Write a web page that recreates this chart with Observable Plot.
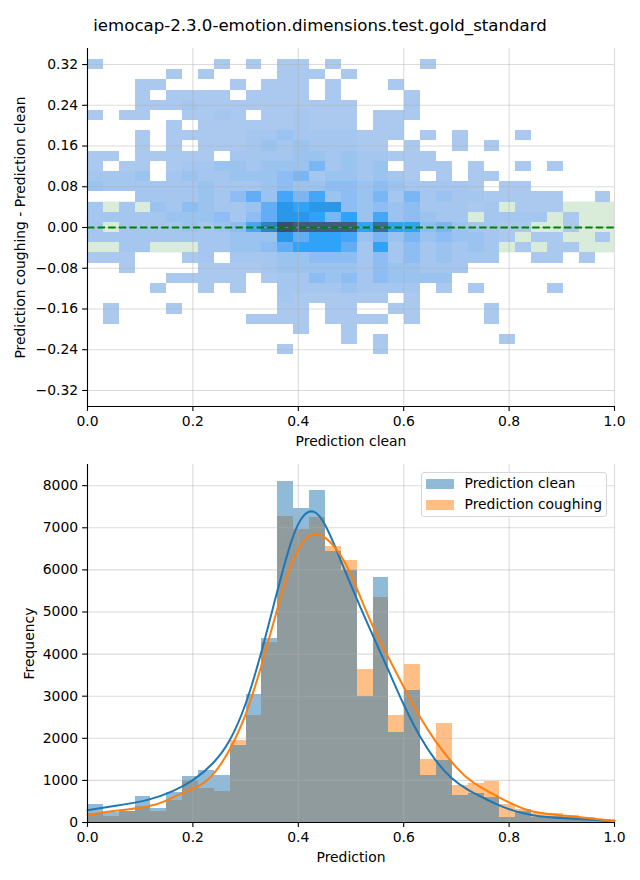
<!DOCTYPE html>
<html>
<head>
<meta charset="utf-8">
<script src="https://cdn.jsdelivr.net/npm/d3@7"></script>
<script src="https://cdn.jsdelivr.net/npm/@observablehq/plot@0.6"></script>
<style>
  html, body { margin: 0; padding: 0; background: #fff; }
  #page { position: relative; width: 640px; height: 880px; overflow: hidden; font-family: "DejaVu Sans", sans-serif; color: #000; }
  #title { position: absolute; left: 0; top: 15px; width: 640px; text-align: center; font-size: 16.6px; line-height: 22px; }
  #top, #bottom { position: absolute; left: 0; }
  #top { top: 40px; }
  #bottom { top: 440px; }
  svg { display: block; overflow: visible; }
  #legend { position: absolute; left: 420.5px; top: 471.5px; width: 186px; height: 45px; box-sizing: border-box; border: 1px solid #d6d6d6; border-radius: 3px; background: rgba(255,255,255,.8); font-size: 13.9px; }
  #legend .sw { position: absolute; left: 4px; width: 28px; height: 10px; }
  #legend .tx { position: absolute; left: 43px; line-height: 16px; white-space: nowrap; }
</style>
</head>
<body>
<div id="page">
  <div id="title"></div>
  <div id="top"></div>
  <div id="bottom"></div>
  <div id="legend"></div>
</div>
<script>
const titleText = "iemocap-2.3.0-emotion.dimensions.test.gold_standard";
const xLabelTop = "Prediction clean";
const yLabelTop = "Prediction coughing - Prediction clean";
const xLabelBottom = "Prediction";
const yLabelBottom = "Frequency";
const seriesNames = ["Prediction clean", "Prediction coughing"];
const seriesColors = ["#1f77b4", "#ff7f0e"];

const xTicks = [0, 0.2, 0.4, 0.6, 0.8, 1];
const yTicksTop = [-0.32, -0.24, -0.16, -0.08, 0, 0.08, 0.16, 0.24, 0.32];
const yTicksBottom = [0, 1000, 2000, 3000, 4000, 5000, 6000, 7000, 8000];

const binWidth = 0.0301;
const diffBinHeight = 0.02;

const diffCenters = [0.32, 0.30, 0.28, 0.26, 0.24, 0.22, 0.20, 0.18, 0.16, 0.14, 0.12, 0.10, 0.08, 0.06, 0.04, 0.02, 0,
  -0.02, -0.04, -0.06, -0.08, -0.10, -0.12, -0.14, -0.16, -0.18, -0.20, -0.22, -0.24];

const density = [
  [1,0,0,0,0,0,0,0,1,0,1,0,1,1,0,1,0,0,0,0,0,1,0,0,0,0,0,0,0,0,0,0,0],
  [0,0,0,0,0,1,0,1,0,0,0,0,1,1,1,0,1,0,0,0,0,0,0,0,0,0,0,0,0,0,0,0,0],
  [0,0,0,1,1,0,0,0,0,1,0,1,1,1,0,1,0,0,0,1,0,0,0,0,0,0,0,0,0,0,0,0,0],
  [0,0,0,1,0,1,1,1,1,0,1,1,1,1,0,1,0,0,0,0,1,0,0,0,0,0,0,0,0,0,0,0,0],
  [0,0,0,1,1,1,2,1,1,1,1,1,1,1,1,1,1,0,0,0,1,0,0,0,0,0,0,0,0,0,0,0,0],
  [1,0,1,1,0,0,1,1,2,1,0,1,1,2,1,1,1,0,1,1,1,0,0,0,0,0,0,0,0,0,0,0,0],
  [0,0,0,0,0,1,0,1,1,1,1,1,1,2,1,1,1,0,1,1,0,0,0,0,0,0,0,0,0,0,0,0,0],
  [0,0,0,1,0,1,1,1,1,1,2,2,3,2,2,2,2,1,1,1,0,1,0,1,0,0,0,1,0,0,0,0,0],
  [0,0,0,1,0,1,0,1,1,1,2,3,2,3,2,2,2,1,1,0,1,0,0,1,0,1,0,0,0,0,0,0,0],
  [1,1,0,1,1,1,1,1,0,2,2,2,2,3,3,2,3,2,2,1,1,1,0,0,0,0,0,0,0,0,0,0,0],
  [1,0,1,1,0,1,2,2,3,3,2,3,3,3,5,2,3,2,3,0,1,1,1,0,1,0,0,1,0,1,0,0,0],
  [2,2,2,3,0,2,3,2,2,3,3,3,4,5,2,3,3,2,3,2,1,0,1,0,1,1,0,0,0,0,0,0,0],
  [3,2,2,2,2,2,2,3,2,2,2,3,4,3,3,4,4,3,4,3,2,2,2,2,1,0,1,1,0,0,0,0,0],
  [0,0,0,2,2,2,2,3,2,4,6,3,7,5,7,3,4,3,5,2,5,2,3,2,2,1,1,1,1,1,0,0,1],
  [2,0,2,0,3,2,4,3,2,2,3,6,9,8,9,9,4,3,4,3,4,2,2,2,1,2,0,1,1,1,0,0,0],
  [2,2,2,2,2,3,3,3,4,2,4,6,9,9,8,5,8,3,7,3,4,3,2,2,0,2,2,2,2,0,1,0,0],
  [2,0,2,2,2,2,3,2,3,4,7,10,13,12,12,12,12,8,11,8,8,4,5,3,2,2,1,1,0,0,1,0,0],
  [2,2,2,2,2,2,2,2,2,3,3,3,9,6,8,8,7,3,5,3,5,3,4,3,3,2,1,0,1,1,0,0,1],
  [0,0,2,2,0,0,0,2,2,3,3,4,6,8,8,8,6,2,8,2,4,2,3,2,3,2,0,1,0,1,1,0,0],
  [1,1,1,0,0,0,1,2,0,2,2,2,3,3,4,4,4,2,4,2,4,2,3,2,2,2,0,0,1,1,0,1,0],
  [0,0,1,0,0,0,0,1,1,1,1,2,3,3,3,3,3,2,4,3,3,2,2,2,0,0,0,0,0,0,0,0,0],
  [0,0,0,0,0,1,1,1,1,1,0,1,2,2,4,3,4,2,4,3,3,3,3,0,0,0,0,0,0,0,0,0,0],
  [0,0,0,0,1,0,0,1,0,1,0,0,2,2,2,2,3,2,2,2,2,0,1,0,1,0,0,0,0,1,0,0,0],
  [0,0,0,0,0,0,0,0,0,0,0,0,2,1,1,1,1,1,1,0,1,0,0,0,0,0,0,0,0,0,0,0,0],
  [0,1,0,0,0,1,0,0,0,0,0,0,1,1,0,1,1,0,0,1,1,0,0,0,0,1,0,0,0,0,0,0,0],
  [0,1,0,0,0,0,0,0,0,0,1,1,1,1,0,1,1,1,1,0,1,0,0,0,0,1,0,0,0,0,0,0,0],
  [0,0,0,0,0,0,0,0,0,0,0,0,0,1,0,0,1,0,0,0,0,0,0,0,0,0,0,0,0,0,0,0,0],
  [0,0,0,0,0,0,0,0,0,0,0,0,0,0,0,0,1,0,1,0,0,0,0,0,0,0,1,0,0,0,0,0,0],
  [0,0,0,0,0,0,0,0,0,0,0,0,1,0,0,0,0,0,1,0,0,0,0,0,0,0,0,0,0,0,0,0,0]
];

const densityLevels = [1, 2, 3, 4, 5, 6, 7, 8, 9, 10, 11, 12, 13];
const densityColors = ["#abc8ee", "#a4c6ef", "#9bc3f0", "#8dbdf2", "#7bb6f4", "#62adf6", "#45a5f7", "#2fa3f8", "#2b97e8", "#2f82c4", "#3f6a98", "#405a80", "#3c4c6c"];

const histClean = [435, 230, 250, 625, 330, 720, 1100, 1240, 1120, 1835, 3045, 4375, 8100, 7460, 7890, 6440, 5990, 3000, 5820, 2145, 3140, 1120, 1480, 650, 695, 600, 125, 255, 120, 150, 120, 70, 55];
const histCough = [210, 150, 270, 390, 270, 530, 1005, 815, 745, 1955, 2550, 4280, 7270, 6960, 7250, 6560, 6225, 3640, 5350, 2550, 3760, 1500, 2360, 885, 935, 980, 435, 315, 215, 215, 165, 120, 70];

const kdeCleanX = [0, 0.05, 0.12, 0.164, 0.2, 0.24, 0.27, 0.30, 0.33, 0.36, 0.389, 0.41, 0.43, 0.45, 0.48, 0.499, 0.539, 0.57, 0.60, 0.63, 0.66, 0.69, 0.719, 0.749, 0.779, 0.81, 0.84, 0.90, 1];
const kdeCleanY = [293, 388, 530, 750, 980, 1400, 1900, 2750, 4020, 5500, 6850, 7350, 7440, 7150, 6250, 5650, 4500, 3650, 2780, 2040, 1460, 1040, 790, 600, 410, 270, 170, 95, 40];
const kdeCoughX = [0, 0.05, 0.12, 0.15, 0.176, 0.214, 0.24, 0.27, 0.30, 0.33, 0.36, 0.389, 0.417, 0.437, 0.461, 0.48, 0.499, 0.539, 0.57, 0.60, 0.63, 0.66, 0.69, 0.719, 0.749, 0.779, 0.81, 0.84, 0.90, 1];
const kdeCoughY = [182, 277, 370, 514, 688, 860, 1130, 1700, 2500, 3700, 5080, 6300, 6830, 6890, 6680, 6370, 5950, 4680, 3950, 3210, 2510, 1920, 1440, 1050, 810, 610, 410, 250, 170, 40];

const fontStack = "'DejaVu Sans', sans-serif";
const plotStyle = { fontFamily: fontStack, fontSize: "13.9px", background: "transparent", color: "#000", overflow: "visible" };
const gridStroke = "#b0b0b0";
const gridOpacity = 0.45;

const cells = density.flatMap((row, r) => row.flatMap((v, c) => v > 0
  ? [{x1: c * binWidth, x2: (c + 1) * binWidth, y1: diffCenters[r] - diffBinHeight / 2, y2: diffCenters[r] + diffBinHeight / 2, level: v}]
  : []));

const yTopMax = 0.3515;
const topPlot = Plot.plot({
  width: 640, height: 400,
  marginLeft: 87, marginRight: 26, marginTop: 8, marginBottom: 34,
  style: plotStyle,
  x: {domain: [0, 1]},
  y: {domain: [-yTopMax, yTopMax]},
  color: {type: "ordinal", domain: densityLevels, range: densityColors},
  marks: [
    Plot.rect([{}], {x1: () => 0, x2: () => 1, y1: () => -0.05, y2: () => 0.05, fill: "#008000", fillOpacity: 0.15}),
    Plot.rect(cells, {x1: "x1", x2: "x2", y1: "y1", y2: "y2", fill: "level", shapeRendering: "crispEdges"}),
    Plot.ruleX(xTicks, {stroke: gridStroke, strokeOpacity: gridOpacity, strokeWidth: 1.1}),
    Plot.ruleY(yTicksTop, {stroke: gridStroke, strokeOpacity: gridOpacity, strokeWidth: 1.1}),
    Plot.ruleY([0], {stroke: "#008000", strokeWidth: 2, strokeDasharray: "7.4,3.2"}),
    Plot.axisX({ticks: xTicks, tickFormat: d3.format(".1f"), tickSize: 4.9, tickPadding: 4.5, stroke: "#000", strokeWidth: 1.1, label: xLabelTop, labelAnchor: "center", labelArrow: "none", labelOffset: 39}),
    Plot.axisY({ticks: yTicksTop, tickFormat: d3.format(".2f"), tickSize: 4.9, tickPadding: 4.5, stroke: "#000", strokeWidth: 1.1, label: yLabelTop, labelAnchor: "center", labelArrow: "none", labelOffset: 72}),
    Plot.ruleX([0], {stroke: "#000", strokeWidth: 1.1}),
    Plot.ruleY([-yTopMax], {stroke: "#000", strokeWidth: 1.1})
  ]
});
document.getElementById("top").append(topPlot);

const bars = (values, series) => values.map((v, c) => ({x1: c * binWidth, x2: (c + 1) * binWidth, y: v, series}));
const kde = (xs, ys) => xs.map((x, i) => ({x, y: ys[i]}));

const bottomPlot = Plot.plot({
  width: 640, height: 440,
  marginLeft: 87, marginRight: 26, marginTop: 24, marginBottom: 58,
  style: plotStyle,
  x: {domain: [0, 1]},
  y: {domain: [0, 8503]},
  marks: [
    Plot.rectY(bars(histCough, 1), {x1: "x1", x2: "x2", y: "y", fill: seriesColors[1], fillOpacity: 0.5, shapeRendering: "crispEdges"}),
    Plot.rectY(bars(histClean, 0), {x1: "x1", x2: "x2", y: "y", fill: seriesColors[0], fillOpacity: 0.5, shapeRendering: "crispEdges"}),
    Plot.ruleX(xTicks, {stroke: gridStroke, strokeOpacity: gridOpacity, strokeWidth: 1.1}),
    Plot.ruleY(yTicksBottom, {stroke: gridStroke, strokeOpacity: gridOpacity, strokeWidth: 1.1}),
    Plot.line(kde(kdeCleanX, kdeCleanY), {x: "x", y: "y", stroke: seriesColors[0], strokeWidth: 2, curve: "basis"}),
    Plot.line(kde(kdeCoughX, kdeCoughY), {x: "x", y: "y", stroke: seriesColors[1], strokeWidth: 2, curve: "basis"}),
    Plot.axisX({ticks: xTicks, tickFormat: d3.format(".1f"), tickSize: 4.9, tickPadding: 4.5, stroke: "#000", strokeWidth: 1.1, label: xLabelBottom, labelAnchor: "center", labelArrow: "none", labelOffset: 39}),
    Plot.axisY({ticks: yTicksBottom, tickFormat: d => String(d), tickSize: 4.9, tickPadding: 4.5, stroke: "#000", strokeWidth: 1.1, label: yLabelBottom, labelAnchor: "center", labelArrow: "none", labelOffset: 63}),
    Plot.ruleX([0], {stroke: "#000", strokeWidth: 1.1}),
    Plot.ruleY([0], {stroke: "#000", strokeWidth: 1.1})
  ]
});
document.getElementById("bottom").append(bottomPlot);

document.getElementById("title").textContent = titleText;
const legend = document.getElementById("legend");
seriesNames.forEach((name, i) => {
  const sw = document.createElement("div");
  sw.className = "sw";
  sw.style.top = (6 + i * 21) + "px";
  sw.style.background = seriesColors[i];
  sw.style.opacity = 0.5;
  const tx = document.createElement("div");
  tx.className = "tx";
  tx.style.top = (2 + i * 21) + "px";
  tx.textContent = name;
  legend.append(sw, tx);
});
</script>
</body>
</html>
